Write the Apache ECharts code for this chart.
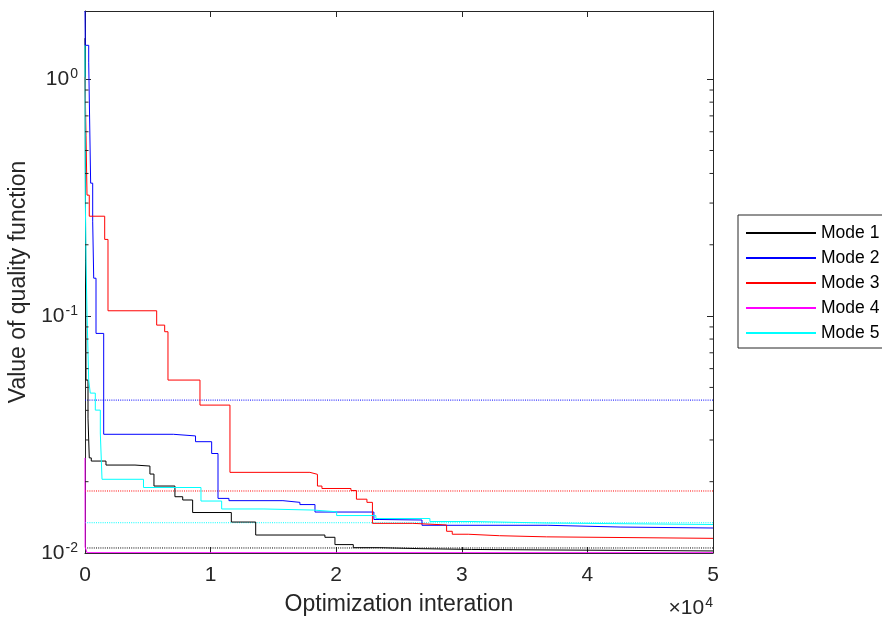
<!DOCTYPE html>
<html><head><meta charset="utf-8">
<script src="https://cdn.jsdelivr.net/npm/echarts@6/dist/echarts.min.js"></script>
<style>html,body{margin:0;padding:0;background:#fff}#c{width:882px;height:619px}</style>
</head><body><div id="c"></div>
<script>
const FONT = '"Liberation Sans", Arial, Helvetica, sans-serif';
const AX = '#262626';
const modeNames = ['Mode 1', 'Mode 2', 'Mode 3', 'Mode 4', 'Mode 5'];
const modeColors = ['#000000', '#0000ff', '#ff0000', '#ff00ff', '#00ffff'];
const xTicks = [0, 10000, 20000, 30000, 40000, 50000];
// step data: [iteration, value] — value holds until next iteration
const mode1 = [[0,1.49],[80,0.0537],[240,0.0371],[340,0.0252],[500,0.02444],[1670,0.02351],[3980,0.02328],[5170,0.02154],[5490,0.01917],[7160,0.01728],[7780,0.01674],[8570,0.01482],[11650,0.01351],[13590,0.01191],[19100,0.01165],[19900,0.01085],[21360,0.01053],[23480,0.01043],[26670,0.01035],[30780,0.0102],[50000,0.0102]];
const mode2 = [[0,1.94],[20,1.39],[295,1.18],[450,0.364],[613,0.25],[693,0.1445],[876,0.0845],[1489,0.0317],[7030,0.0312],[8800,0.0295],[10085,0.0263],[10590,0.0170],[11460,0.01663],[15760,0.01636],[17110,0.01601],[18310,0.01489],[23000,0.01385],[23480,0.01378],[26830,0.01309],[36850,0.01287],[42600,0.01275],[50000,0.0127]];
const mode3 = [[0,1.02],[80,0.58],[160,0.324],[340,0.264],[1568,0.2107],[1831,0.1053],[5707,0.0916],[6344,0.0859],[6607,0.0537],[9154,0.0421],[11542,0.0219],[17910,0.02148],[18507,0.01917],[18865,0.01872],[21174,0.01835],[21611,0.01687],[22447,0.01636],[22885,0.01334],[26100,0.01313],[28790,0.01235],[29240,0.0120],[30510,0.01183],[33000,0.0117],[36750,0.01153],[50000,0.01153]];
const mode4 = [[0,0.0252],[10,0.0106],[160,0.01003],[50000,0.01003]];
const mode5 = [[0,1.39],[25,0.309],[80,0.172],[160,0.103],[295,0.0537],[420,0.0473],[820,0.0401],[1220,0.0321],[1355,0.02047],[4657,0.0189],[9234,0.01657],[10881,0.01534],[14250,0.01518],[18170,0.01493],[20035,0.01439],[23160,0.01398],[27460,0.01358],[30890,0.01338],[36780,0.01319],[50000,0.01315]];
// dotted reference levels
const refValues = [0.0105, 0.0442, 0.01827, 0.01342];
const refColors = ['#000000', '#0000ff', '#ff0000', '#00ffff'];
const yMin = 0.01, yMax = 1.94;
// minor log ticks
const minorTicks = [];
for (let e = -2; e <= 0; e++) for (let m = 2; m <= 9; m++) { const v = m * Math.pow(10, e); if (v < yMax) minorTicks.push([0, v]); }

const modes = [mode1, mode2, mode3, mode4, mode5];
const series = modes.map((d, i) => ({
  name: modeNames[i], type: 'line', step: 'end', data: d, symbol: 'none',
  lineStyle: { color: modeColors[i], width: 1 }, itemStyle: { color: modeColors[i] }, z: 3
}));
refValues.forEach((v, i) => series.push({
  name: 'ref' + i, type: 'line', data: [[0, v], [50000, v]], symbol: 'none',
  lineStyle: { color: refColors[i], width: 1, type: [1, 1.2] }, z: 2
}));
series.push({
  name: 'minor', type: 'custom', data: minorTicks, z: 5, silent: true,
  renderItem: (params, api) => {
    const v = api.value(1);
    const pL = api.coord([0, v]);
    const pR = api.coord([50000, v]);
    return { type: 'group', children: [
      { type: 'line', shape: { x1: pL[0], y1: pL[1], x2: pL[0] + 3.5, y2: pL[1] }, style: { stroke: AX, lineWidth: 1 } },
      { type: 'line', shape: { x1: pR[0] - 3.5, y1: pR[1], x2: pR[0], y2: pR[1] }, style: { stroke: AX, lineWidth: 1 } }
    ]};
  }
});

const axLine = { show: true, onZero: false, lineStyle: { color: AX, width: 1 } };
const axTick = { show: true, inside: true, length: 6, lineStyle: { color: AX, width: 1 } };
const yLabelFmt = v => {
  const l = Math.log10(v), e = Math.round(l);
  if (Math.abs(l - e) > 1e-6) return '';
  return '{b|10}{s|' + e + '}';
};
const yRich = {
  b: { fontSize: 21, color: AX, fontFamily: FONT, lineHeight: 24 },
  s: { fontSize: 14, color: AX, fontFamily: FONT, verticalAlign: 'top', lineHeight: 14, padding: [0, 0, 14, 1] }
};

const option = {
  animation: false,
  backgroundColor: '#fff',
  grid: { left: 85, top: 11, right: 169, bottom: 66, containLabel: false, outerBoundsMode: 'none' },
  legend: {
    data: modeNames, orient: 'vertical', left: 738, top: 215,
    itemWidth: 70, itemHeight: 14, itemGap: 7, padding: [9, 16, 6, 7],
    borderColor: AX, borderWidth: 1, backgroundColor: '#fff',
    itemStyle: { opacity: 0 },
    textStyle: { fontSize: 17.5, color: '#000', fontFamily: FONT }
  },
  xAxis: [
    { type: 'value', min: 0, max: 50000, interval: 10000, position: 'bottom',
      axisLine: axLine, axisTick: axTick, splitLine: { show: false },
      axisLabel: { formatter: v => String(v / 10000), fontSize: 21, color: AX, margin: 12, fontFamily: FONT },
      name: 'Optimization interation', nameLocation: 'middle', nameGap: 40,
      nameTextStyle: { fontSize: 23, color: AX, fontFamily: FONT } },
    { type: 'value', min: 0, max: 50000, interval: 10000, position: 'top',
      axisLine: axLine, axisTick: axTick, splitLine: { show: false }, axisLabel: { show: false } }
  ],
  yAxis: [
    { type: 'log', logBase: 10, min: yMin, max: yMax, position: 'left',
      axisLine: axLine, axisTick: axTick, splitLine: { show: false },
      axisLabel: { formatter: yLabelFmt, rich: yRich, margin: 7, showMaxLabel: false },
      name: 'Value of quality function', nameLocation: 'middle', nameGap: 45, nameRotate: 90,
      nameTextStyle: { fontSize: 23, color: AX, fontFamily: FONT } },
    { type: 'log', logBase: 10, min: yMin, max: yMax, position: 'right',
      axisLine: axLine, axisTick: axTick, splitLine: { show: false }, axisLabel: { show: false } }
  ],
  graphic: [{
    type: 'text', right: 169, top: 596,
    style: { text: '{a|×10}{b|4}', rich: {
      a: { fontSize: 21, fill: AX, fontFamily: FONT, lineHeight: 24 },
      b: { fontSize: 14, fill: AX, fontFamily: FONT, verticalAlign: 'top', lineHeight: 14, padding: [0, 0, 14, 1] }
    } }
  }],
  series: series
};
const chart = echarts.init(document.getElementById('c'), null, { renderer: 'canvas' });
chart.setOption(option);
</script></body></html>
